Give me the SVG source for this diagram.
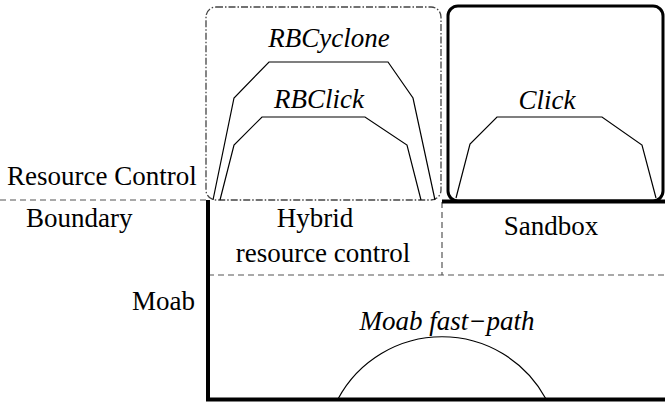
<svg xmlns="http://www.w3.org/2000/svg" width="665" height="403" viewBox="0 0 665 403">
<style>
text{font-family:"Liberation Serif","Times New Roman",serif;font-size:27px;fill:#000}
.it{font-style:italic}
.thin{fill:none;stroke:#000;stroke-width:1.2}
.dash{fill:none;stroke:#555;stroke-width:1.2;stroke-dasharray:6 4}
.thick{fill:none;stroke:#000;stroke-width:4}
</style>
<rect width="665" height="403" fill="#fff"/>
<g id="labels">
<text x="7" y="185">Resource Control</text>
<text x="26" y="227">Boundary</text>
<text x="132" y="310">Moab</text>
</g>
<g id="hybrid-box">
<rect x="206" y="7" width="235" height="193" rx="10" fill="none" stroke="#444" stroke-width="1.3" stroke-dasharray="7 2 1.5 2"/>
</g>
<g id="rbcyclone">
<polyline class="thin" points="213,200 234,98 269,62 388,62 413,98 435,200"/>
<text class="it" x="329" y="47" text-anchor="middle">RBCyclone</text>
</g>
<g id="rbclick">
<polyline class="thin" points="220,200 234,145 262,117 365,117 407,145 421,200"/>
<text class="it" x="319" y="108" text-anchor="middle">RBClick</text>
</g>
<g id="click-box">
<rect x="448" y="6" width="215" height="195" rx="10" fill="none" stroke="#000" stroke-width="3"/>
</g>
<g id="click">
<polyline class="thin" points="456,198 470,144 497,117 602,117 642,145 656,198"/>
<text class="it" x="547" y="109" text-anchor="middle">Click</text>
</g>
<g id="hybrid">
<text x="315" y="227" text-anchor="middle">Hybrid</text>
<text x="323" y="262" text-anchor="middle">resource control</text>
</g>
<g id="sandbox">
<text x="551" y="235" text-anchor="middle">Sandbox</text>
</g>
<g id="moab-fast-path">
<path class="thin" d="M338 399 A118 118 0 0 1 546 399"/>
<text class="it" x="447" y="330" text-anchor="middle">Moab fast−path</text>
</g>
<g id="connectors">
<line class="dash" x1="0" y1="200" x2="206" y2="200"/>
<line class="dash" x1="208" y1="275" x2="665" y2="275"/>
<line class="dash" x1="442" y1="202" x2="442" y2="275"/>
<line class="thick" x1="442" y1="201.5" x2="665" y2="201.5" stroke-width="3.5"/>
<line class="thick" x1="208" y1="200" x2="208" y2="401"/>
<line class="thick" x1="206" y1="399.5" x2="665" y2="399.5"/>
</g>
</svg>
